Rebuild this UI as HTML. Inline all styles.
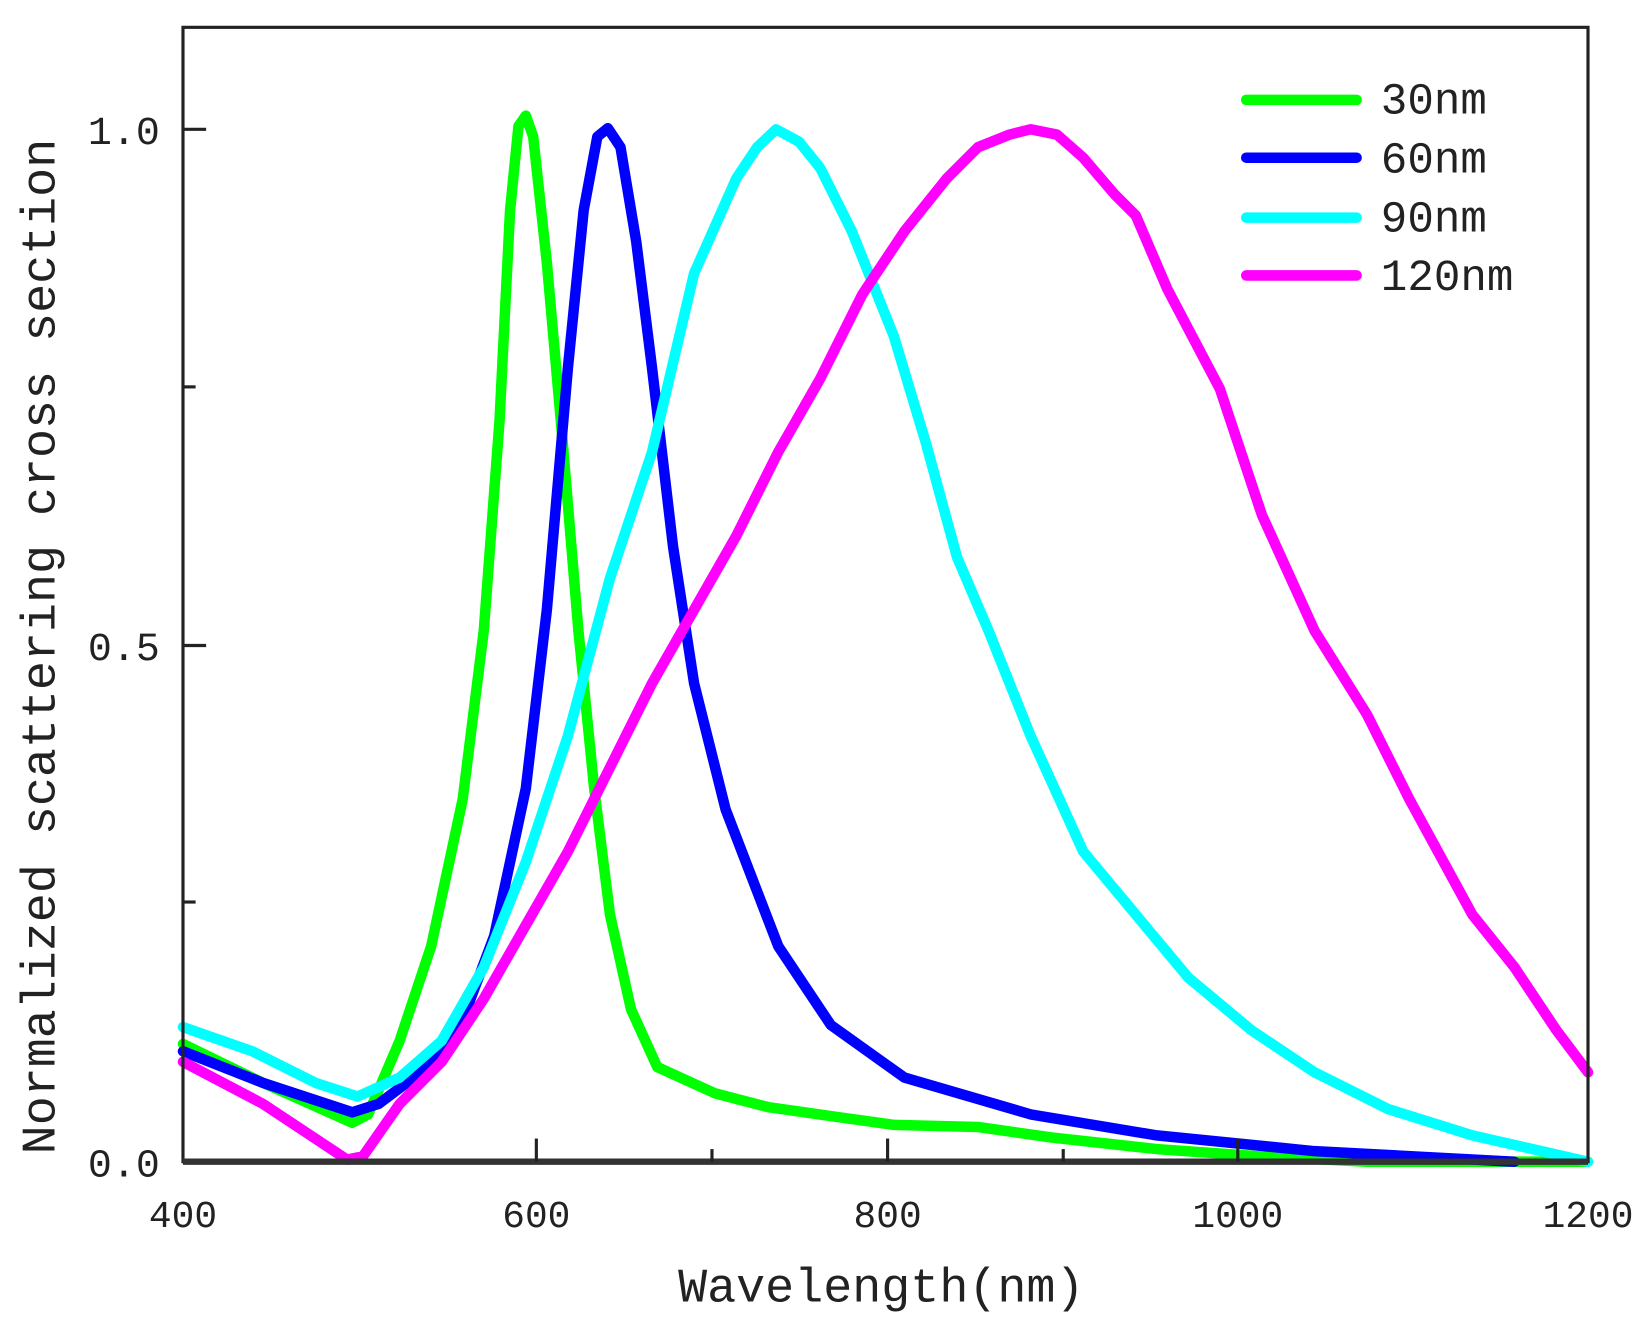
<!DOCTYPE html>
<html><head><meta charset="utf-8"><style>
html,body{margin:0;padding:0;background:#fff;}
svg{display:block;}
text{font-family:"Liberation Mono",monospace;fill:#222;}
</style></head><body>
<svg width="1649" height="1332" viewBox="0 0 1568 1267" preserveAspectRatio="none" xmlns="http://www.w3.org/2000/svg">
<rect width="1568" height="1267" fill="#fff"/>
<g fill="none" stroke-width="10" stroke-linejoin="round" stroke-linecap="round">
<polyline stroke="#00ff00" points="174,993 250,1030 335,1068 350,1060 380,990 410,900 440,760 460,600 475,400 485,200 493,120 500,110 507,130 520,250 535,420 550,600 565,750 580,870 600,960 625,1015 680,1040 730,1053 800,1063 850,1070 930,1072 1000,1082 1100,1093 1200,1100 1300,1105 1510,1105"/>
<polyline stroke="#0000ff" points="174,1000 250,1030 335,1058 360,1050 400,1020 440,970 470,890 500,750 520,580 540,350 555,200 568,130 578,122 590,140 605,230 620,350 640,520 660,650 690,770 740,900 790,975 860,1025 980,1060 1100,1080 1250,1095 1440,1105"/>
<polyline stroke="#00ffff" points="174,977 240,1000 300,1030 340,1043 380,1025 420,990 460,920 500,820 540,700 580,550 620,430 660,260 700,170 720,140 738,123 760,135 780,160 810,220 850,320 880,420 910,530 940,600 980,700 1030,810 1080,870 1130,930 1190,980 1250,1020 1320,1055 1400,1080 1510,1105"/>
<polyline stroke="#ff00ff" points="174,1010 250,1050 330,1103 345,1100 380,1050 420,1010 460,950 500,880 540,810 580,730 620,650 660,580 700,510 740,430 780,360 820,280 860,220 900,170 930,140 960,128 980,123 1005,128 1030,150 1060,185 1080,205 1110,275 1160,370 1200,490 1250,600 1300,680 1340,760 1400,870 1440,920 1480,980 1510,1020"/>
<line x1="1185" y1="95" x2="1290" y2="95" stroke="#00ff00"/>
<line x1="1185" y1="150" x2="1290" y2="150" stroke="#0000ff"/>
<line x1="1185" y1="207" x2="1290" y2="207" stroke="#00ffff"/>
<line x1="1185" y1="262" x2="1290" y2="262" stroke="#ff00ff"/>
</g>
<rect x="174" y="26" width="1336" height="1079" fill="none" stroke="#222" stroke-width="3"/>
<line x1="174" y1="1105" x2="1510" y2="1105" stroke="#333" stroke-width="6"/>
<g stroke="#222" stroke-width="3">
<line x1="510" y1="1105" x2="510" y2="1083"/><line x1="844" y1="1105" x2="844" y2="1083"/><line x1="1177" y1="1105" x2="1177" y2="1083"/>
<line x1="677" y1="1105" x2="677" y2="1093"/><line x1="1011" y1="1105" x2="1011" y2="1093"/>
<line x1="174" y1="123" x2="196" y2="123"/><line x1="174" y1="614" x2="196" y2="614"/>
<line x1="174" y1="368" x2="186" y2="368"/><line x1="174" y1="858" x2="186" y2="858"/>
</g>
<g font-size="38" text-anchor="end">
<text x="152" y="137">1.0</text><text x="152" y="628">0.5</text><text x="152" y="1119">0.0</text>
</g>
<g font-size="36" text-anchor="middle">
<text x="174" y="1167">400</text><text x="510" y="1167">600</text><text x="844" y="1167">800</text><text x="1177" y="1167">1000</text><text x="1510" y="1167">1200</text>
</g>
<text x="838" y="1238" font-size="46" text-anchor="middle">Wavelength(nm)</text>
<text transform="translate(52,615) rotate(-90)" font-size="46" text-anchor="middle">Normalized scattering cross section</text>
<g font-size="42">
<text x="1313" y="108">30nm</text><text x="1313" y="164">60nm</text><text x="1313" y="220">90nm</text><text x="1313" y="276">120nm</text>
</g>
</svg>
</body></html>
